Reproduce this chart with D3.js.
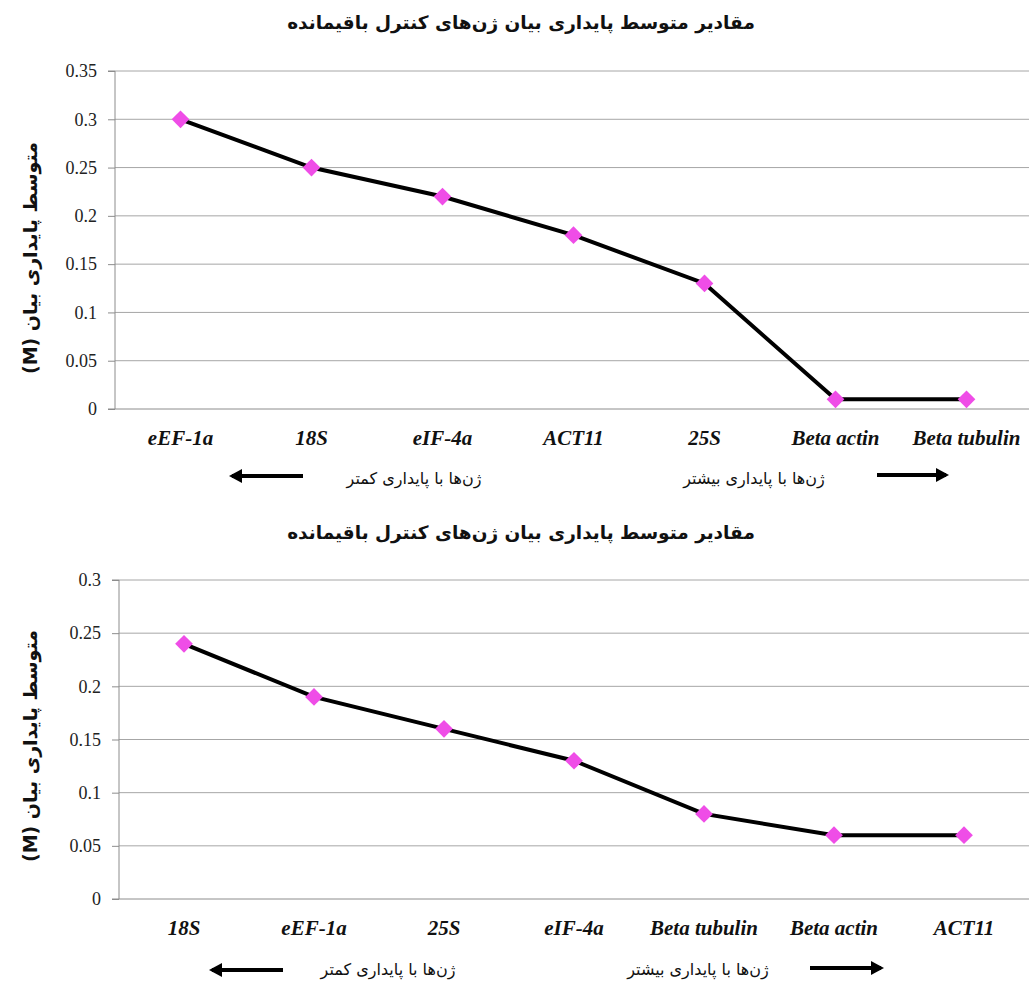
<!DOCTYPE html>
<html><head><meta charset="utf-8">
<script src="https://cdn.jsdelivr.net/npm/d3@7"></script>
<style>
body{margin:0;background:#fff;}
svg{display:block;}
</style></head>
<body>
<script>
const titleText = "مقادیر متوسط پایداری بیان ژن‌های کنترل باقیمانده";
const yLabelText = "متوسط پایداری بیان (M)";
const lessStable = "ژن‌ها با پایداری کمتر";
const moreStable = "ژن‌ها با پایداری بیشتر";

const genes1 = ["eEF-1a","18S","eIF-4a","ACT11","25S","Beta actin","Beta tubulin"];
const values1 = [0.30,0.25,0.22,0.18,0.13,0.01,0.01];
const ticks1 = [0,0.05,0.1,0.15,0.2,0.25,0.3,0.35];

const genes2 = ["18S","eEF-1a","25S","eIF-4a","Beta tubulin","Beta actin","ACT11"];
const values2 = [0.24,0.19,0.16,0.13,0.08,0.06,0.06];
const ticks2 = [0,0.05,0.1,0.15,0.2,0.25,0.3];

const W=1029,H=981;
const svg=d3.select("body").append("svg").attr("width",W).attr("height",H);
const persian = "'DejaVu Sans', sans-serif";

function chart(cfg){
  const g=svg.append("g");
  const x=d3.scaleBand().domain(cfg.genes).range([cfg.x0,cfg.x1]);
  const y=d3.scaleLinear().domain([0,cfg.ymax]).range([cfg.yb,cfg.yt]);
  g.append("g").selectAll("line").data(cfg.ticks.slice(1)).join("line")
    .attr("x1",cfg.x0).attr("x2",W).attr("y1",d=>y(d)).attr("y2",d=>y(d))
    .attr("stroke","#a6a6a6").attr("stroke-width",1);
  const ya=g.append("g").attr("transform",`translate(${cfg.x0},0)`)
    .call(d3.axisLeft(y).tickValues(cfg.ticks).tickFormat(d=>String(+d.toFixed(2))).tickSize(7).tickPadding(11));
  ya.selectAll("path,line").attr("stroke","#8c8c8c");
  ya.select(".domain").attr("d",`M-7,${cfg.yt}H0V${cfg.yb}H-7`);
  ya.selectAll("text").attr("font-family","'Liberation Serif', serif").attr("font-size",18).attr("fill","#222");
  g.append("line").attr("x1",cfg.x0).attr("x2",W).attr("y1",cfg.yb).attr("y2",cfg.yb).attr("stroke","#8c8c8c");
  g.append("g").selectAll("text").data(cfg.genes).join("text")
    .attr("x",d=>x(d)+x.bandwidth()/2).attr("y",cfg.yb+36)
    .attr("text-anchor","middle").attr("font-family","'Liberation Serif', serif")
    .attr("font-weight","bold").attr("font-style","italic").attr("font-size",21).attr("fill","#111")
    .text(d=>d);
  const pts=cfg.genes.map((d,i)=>[x(d)+x.bandwidth()/2,y(cfg.values[i])]);
  g.append("path").attr("d",d3.line()(pts)).attr("fill","none").attr("stroke","#000").attr("stroke-width",4);
  g.append("g").selectAll("path").data(pts).join("path")
    .attr("d",d3.symbol(d3.symbolDiamond2,200)).attr("transform",d=>`translate(${d[0]},${d[1]})`)
    .attr("fill","#ef4de7");
  svg.append("text").attr("x",521).attr("y",cfg.titleY).attr("text-anchor","middle").attr("direction","rtl")
    .attr("font-family",persian).attr("font-weight","bold").attr("font-size",18.5).attr("fill","#111").text(titleText);
  svg.append("text").attr("transform",`translate(37,${cfg.labelY}) rotate(-90)`).attr("text-anchor","middle")
    .attr("direction","rtl").attr("font-family",persian).attr("font-weight","bold").attr("font-size",19).attr("fill","#111").text(yLabelText);
  const arrow=(xa,xb,ay)=>{
    svg.append("line").attr("x1",xa).attr("x2",xb).attr("y1",ay).attr("y2",ay).attr("stroke","#000").attr("stroke-width",4);
    const dir=Math.sign(xb-xa);
    svg.append("path").attr("d",`M${xb+dir*3},${ay} L${xb-dir*10},${ay-7} L${xb-dir*10},${ay+7}Z`).attr("fill","#000");
  };
  arrow(cfg.lArrow[1],cfg.lArrow[0],cfg.lArrowY);
  arrow(cfg.rArrow[0],cfg.rArrow[1],cfg.rArrowY);
  svg.append("text").attr("x",cfg.lText).attr("y",cfg.lTextY).attr("text-anchor","middle").attr("direction","rtl")
    .attr("font-family",persian).attr("font-size",16).attr("fill","#111").text(lessStable);
  svg.append("text").attr("x",cfg.rText).attr("y",cfg.rTextY).attr("text-anchor","middle").attr("direction","rtl")
    .attr("font-family",persian).attr("font-size",16).attr("fill","#111").text(moreStable);
}

chart({genes:genes1,values:values1,ticks:ticks1,ymax:0.35,x0:115,x1:1032,yt:71,yb:409,titleY:29,labelY:258,
  lArrow:[232,303],lArrowY:476,rArrow:[877,946],rArrowY:475,lText:414,lTextY:484,rText:754,rTextY:484});
chart({genes:genes2,values:values2,ticks:ticks2,ymax:0.3,x0:119,x1:1029,yt:580,yb:899,titleY:539,labelY:746,
  lArrow:[212,283],lArrowY:970,rArrow:[810,881],rArrowY:968,lText:388,lTextY:975,rText:698,rTextY:975});
</script>
</body></html>
